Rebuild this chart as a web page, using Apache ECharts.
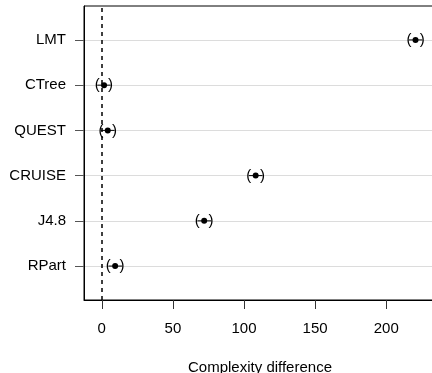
<!DOCTYPE html>
<html>
<head>
<meta charset="utf-8">
<script src="https://cdn.jsdelivr.net/npm/echarts@6/dist/echarts.min.js"></script>
<style>
  html, body { margin: 0; padding: 0; background: #fff; }
  #chart { width: 432px; height: 373px; }
</style>
</head>
<body>
<div id="chart"></div>
<script>
// top to bottom, as in the reference
const methods = ['LMT', 'CTree', 'QUEST', 'CRUISE', 'J4.8', 'RPart']
const estimate = [220.6, 1.6, 4.2, 108.2, 72.0, 9.4]
const lower = [216.0, -3.2, -0.6, 103.4, 67.2, 4.6]
const upper = [225.4, 6.2, 9.0, 113.0, 76.8, 14.3]
const xTicks = [0, 50, 100, 150, 200]

const font = 'Liberation Sans, Arial, sans-serif'
const n = methods.length
const rows = methods.map((m, i) => [estimate[i], n - i, lower[i], upper[i]])
const yPos = methods.map((m, i) => n - i)

const chart = echarts.init(document.getElementById('chart'))

chart.setOption({
  animation: false,
  grid: {
    // box runs past the right edge of the picture
    left: 84, top: 6, width: 352, height: 294,
    outerBoundsMode: 'none',
    show: true, borderColor: '#000', borderWidth: 1,
  },
  xAxis: {
    type: 'value',
    min: -12.5,
    max: 235,
    name: 'Complexity difference',
    nameLocation: 'middle',
    nameGap: 60,
    nameTextStyle: { fontFamily: font, fontSize: 15, color: '#000' },
    axisLine: { show: true, onZero: false, lineStyle: { color: '#000' } },
    axisTick: { show: true, inside: false, customValues: xTicks, length: 9, lineStyle: { color: '#333' } },
    axisLabel: {
      customValues: xTicks, margin: 21,
      fontFamily: font, fontSize: 15, color: '#000',
    },
    splitLine: { show: false },
  },
  yAxis: {
    type: 'value',
    min: 0.25,
    max: 6.75,
    position: 'left',
    axisLine: { show: true, onZero: false, lineStyle: { color: '#000' } },
    axisTick: { show: true, inside: false, customValues: yPos, length: 9, lineStyle: { color: '#555' } },
    axisLabel: {
      customValues: yPos, margin: 18,
      fontFamily: font, fontSize: 15, color: '#000',
      formatter: (v) => methods[n - Math.round(v)] || '',
    },
    splitLine: { show: true, lineStyle: { color: '#dcdcdc', width: 1 } },
  },
  series: [
    {
      type: 'custom',
      data: rows,
      renderItem: (params, api) => {
        const c = api.coord([api.value(0), api.value(1)])
        const lo = api.coord([api.value(2), api.value(1)])
        const hi = api.coord([api.value(3), api.value(1)])
        const txt = { font: '15px ' + font, fill: '#000', align: 'center', verticalAlign: 'middle' }
        return {
          type: 'group',
          children: [
            { type: 'line', shape: { x1: lo[0], y1: c[1], x2: hi[0], y2: c[1] }, style: { stroke: '#000', lineWidth: 1 } },
            { type: 'circle', shape: { cx: c[0], cy: c[1], r: 3 }, style: { fill: '#000' } },
            { type: 'text', style: { ...txt, text: '(', x: lo[0], y: c[1] } },
            { type: 'text', style: { ...txt, text: ')', x: hi[0], y: c[1] } },
          ],
        }
      },
      markLine: {
        silent: true,
        symbol: 'none',
        label: { show: false },
        lineStyle: { color: '#000', width: 1.5, type: [4, 4] },
        data: [{ xAxis: 0 }],
      },
    },
  ],
})
</script>
</body>
</html>
